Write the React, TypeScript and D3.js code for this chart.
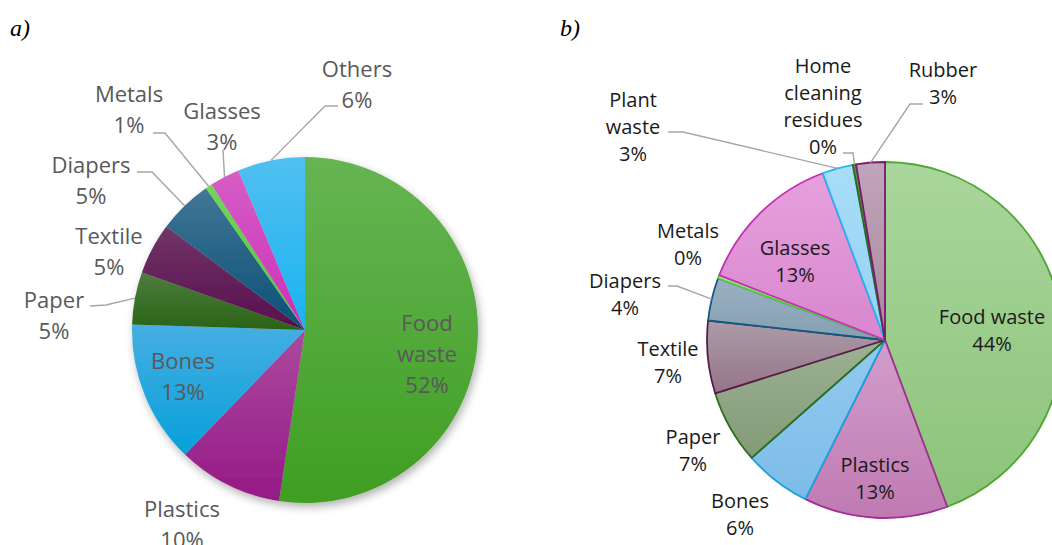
import React from "react";
import * as d3 from "d3";

// ---- Data: composition of waste (%) ----
const categoriesA = ["Food waste", "Plastics", "Bones", "Paper", "Textile", "Diapers", "Metals", "Glasses", "Others"];
const valuesA = [52.4, 9.8, 13.3, 4.9, 4.8, 5.1, 0.6, 2.8, 6.3];

const categoriesB = [
  "Food waste", "Plastics", "Bones", "Paper", "Textile", "Diapers",
  "Metals", "Glasses", "Plant waste", "Home cleaning residues", "Rubber",
];
const valuesB = [44.4, 13.1, 6.1, 6.7, 6.6, 3.9, 0.3, 13.4, 2.8, 0.3, 2.6];

// ---- Styles ----
const fillsA: [string, string][] = [
  ["#66b553", "#3f9e22"],
  ["#ab4a9f", "#951985"],
  ["#45aee2", "#08a0da"],
  ["#4d7d3f", "#2a6315"],
  ["#713667", "#570e4d"],
  ["#427695", "#095077"],
  ["#70d756", "#4ec732"],
  ["#d65ec6", "#ca2fb8"],
  ["#52bff0", "#18b4f0"],
];

const fillsB: [string, string][] = [
  ["#a9d69c", "#8cc37a"],
  ["#d29ecb", "#bf7ab2"],
  ["#92caef", "#7dbce8"],
  ["#9db094", "#829b76"],
  ["#ab9ca7", "#957587"],
  ["#9bb0c2", "#84a0b3"],
  ["#a8e898", "#8fdc7c"],
  ["#e6a0dd", "#d887ce"],
  ["#a9ddf7", "#93d2f3"],
  ["#5f8f4d", "#4d7e3c"],
  ["#c1a3bb", "#a8899f"],
];
const strokesB = [
  "#4ea72e", "#a32d96", "#1aa3dd", "#2e6b1e", "#5a1a4e", "#0f5b7d",
  "#5ccf3c", "#c530b3", "#26b6ef", "#2e6b1e", "#7b1b6e",
];

// ---- Layout ----
const centerA = { x: 305, y: 330, r: 173 };
const centerB = { x: 885, y: 340, r: 178 };

const labelPosA: { x: number; y: number; leader?: [number, number][] }[] = [
  { x: 427, y: 322 },
  { x: 182, y: 508 },
  { x: 183, y: 360 },
  { x: 54, y: 299, leader: [[90, 306], [106, 305]] },
  { x: 109, y: 235 },
  { x: 91, y: 164, leader: [[137, 172], [152, 172]] },
  { x: 129, y: 93, leader: [[153, 133], [165, 133]] },
  { x: 222, y: 110, leader: [[223, 150]] },
  { x: 357, y: 68, leader: [[338, 106], [325, 106]] },
];

const labelPosB: { x: number; y: number; leader?: [number, number][] }[] = [
  { x: 992, y: 316 },
  { x: 875, y: 464 },
  { x: 740, y: 500 },
  { x: 693, y: 436 },
  { x: 668, y: 348 },
  { x: 625, y: 280, leader: [[668, 286], [677, 286]] },
  { x: 688, y: 230 },
  { x: 795, y: 247 },
  { x: 633, y: 99, leader: [[668, 132], [683, 132]] },
  { x: 823, y: 65, leader: [[843, 153], [853, 153]] },
  { x: 943, y: 69, leader: [[923, 104], [910, 104]] },
];

const labelLinesA = (name: string) => (name === "Food waste" ? ["Food", "waste"] : [name]);
const labelLinesB = (name: string) =>
  name === "Plant waste" ? ["Plant", "waste"] : name === "Home cleaning residues" ? ["Home", "cleaning", "residues"] : [name];

const FONT = "'Open Sans', 'Noto Sans', sans-serif";

function Pie({
  id, categories, values, fills, strokes, center, labels, lineFn,
  fontSize, lineGap, textColor, shadow,
}: {
  id: string;
  categories: string[];
  values: number[];
  fills: [string, string][];
  strokes?: string[];
  center: { x: number; y: number; r: number };
  labels: { x: number; y: number; leader?: [number, number][] }[];
  lineFn: (n: string) => string[];
  fontSize: number;
  lineGap: number;
  textColor: string;
  shadow: boolean;
}) {
  const rows = categories.map((c, i) => ({ name: c, value: values[i], i }));
  const pie = d3.pie<typeof rows[number]>().sort(null).value((d) => d.value);
  const arcs = pie(rows);
  const arc = d3.arc<d3.PieArcDatum<typeof rows[number]>>().innerRadius(0).outerRadius(center.r);
  const edgeArc = d3.arc<d3.PieArcDatum<typeof rows[number]>>().innerRadius(center.r).outerRadius(center.r);
  const line = d3.line();

  return (
    <g>
      <defs>
        {fills.map((f, i) => (
          <linearGradient key={i} id={`${id}-g${i}`} x1="0" y1="0" x2="0" y2="1">
            <stop offset="0" stopColor={f[0]} />
            <stop offset="1" stopColor={f[1]} />
          </linearGradient>
        ))}
        <filter id={`${id}-shadow`} x="-20%" y="-20%" width="140%" height="140%">
          <feDropShadow dx="2" dy="4" stdDeviation="4" floodColor="#000" floodOpacity="0.3" />
        </filter>
      </defs>
      <g transform={`translate(${center.x},${center.y})`} filter={shadow ? `url(#${id}-shadow)` : undefined}>
        {arcs.map((a, i) => (
          <path
            key={i}
            d={arc(a) || ""}
            fill={`url(#${id}-g${i})`}
            stroke={strokes ? strokes[i] : "none"}
            strokeWidth={strokes ? 1.8 : 0}
            strokeLinejoin="round"
          />
        ))}
      </g>
      {arcs.map((a, i) => {
        const lp = labels[i];
        if (!lp.leader) return null;
        const [ex, ey] = edgeArc.centroid(a);
        const pts: [number, number][] = [...lp.leader, [center.x + ex, center.y + ey]];
        return <path key={`l${i}`} d={line(pts) || ""} fill="none" stroke="#a6a6a6" strokeWidth={1.4} />;
      })}
      {arcs.map((a, i) => {
        const lp = labels[i];
        const lines = [...lineFn(a.data.name), `${Math.round(a.data.value)}%`];
        return (
          <text
            key={`t${i}`}
            x={lp.x}
            y={lp.y}
            textAnchor="middle"
            fontFamily={FONT}
            fontSize={fontSize}
            fill={textColor}
          >
            {lines.map((t, k) => (
              <tspan key={k} x={lp.x} y={lp.y + k * lineGap} dominantBaseline="central">
                {t}
              </tspan>
            ))}
          </text>
        );
      })}
    </g>
  );
}

export default function App() {
  return (
    <svg
      width={1052}
      height={545}
      viewBox="0 0 1052 545"
      style={{ position: "absolute", left: 0, top: 0, background: "#fff", display: "block" }}
    >
      <rect width={1052} height={545} fill="#fff" />
      <text x={10} y={36} fontFamily="'Liberation Serif', serif" fontStyle="italic" fontSize={24} fill="#000">
        a)
      </text>
      <text x={560} y={36} fontFamily="'Liberation Serif', serif" fontStyle="italic" fontSize={24} fill="#000">
        b)
      </text>
      <Pie
        id="pa"
        categories={categoriesA}
        values={valuesA}
        fills={fillsA}
        center={centerA}
        labels={labelPosA}
        lineFn={labelLinesA}
        fontSize={22}
        lineGap={31}
        textColor="#595959"
        shadow={true}
      />
      <Pie
        id="pb"
        categories={categoriesB}
        values={valuesB}
        fills={fillsB}
        strokes={strokesB}
        center={centerB}
        labels={labelPosB}
        lineFn={labelLinesB}
        fontSize={20}
        lineGap={27}
        textColor="#1a1a1a"
        shadow={false}
      />
    </svg>
  );
}
